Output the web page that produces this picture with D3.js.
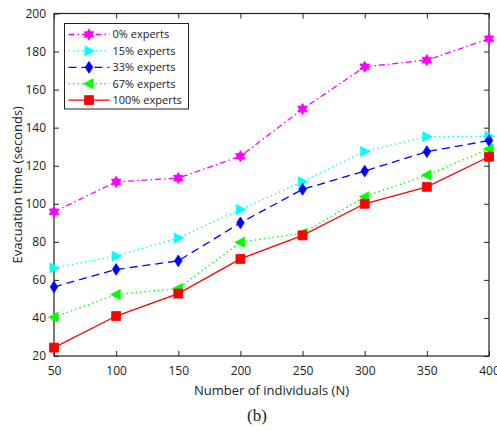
<!DOCTYPE html>
<html>
<head>
<meta charset="utf-8">
<script src="https://cdn.jsdelivr.net/npm/d3@7"></script>
<style>
  body { margin: 0; background: #fff; }
  svg text { font-family: "Open Sans", "Noto Sans", sans-serif; fill: #222; }
</style>
</head>
<body>
<svg id="chart" width="497" height="431"></svg>
<script>
// data
var individuals = [50, 100, 150, 200, 250, 300, 350, 400];
var experts0   = [95.8, 111.5, 113.5, 125, 149.8, 172, 175.5, 186.7];
var experts15  = [66.3, 72.5, 82, 97, 111.6, 127.5, 135.3, 135.5];
var experts33  = [56.3, 65.5, 70, 90, 107.6, 117.2, 127.4, 133.2];
var experts67  = [40.4, 52.3, 55.5, 79.8, 84.5, 103.7, 115.1, 128.8];
var experts100 = [24.4, 41, 52.8, 71, 83.4, 100, 108.9, 124.7];
var seriesNames = ["0% experts", "15% experts", "33% experts", "67% experts", "100% experts"];
var yTicks = [20, 40, 60, 80, 100, 120, 140, 160, 180, 200];

var series = [
  { name: seriesNames[0], values: experts0,   color: "#ff00ff", dash: "6,3,1.5,3", marker: "star" },
  { name: seriesNames[1], values: experts15,  color: "#00ffff", dash: "1.5,3",     marker: "triRight" },
  { name: seriesNames[2], values: experts33,  color: "#0000ff", dash: "8,5",       marker: "diamond" },
  { name: seriesNames[3], values: experts67,  color: "#00ff00", dash: "1.5,3",     marker: "triLeft" },
  { name: seriesNames[4], values: experts100, color: "#ff0000", dash: null,        marker: "square" }
];

var svg = d3.select("#chart");
var margin = { left: 54, right: 8, top: 13.5, bottom: 75 };
var W = 497, H = 431;

var x = d3.scaleLinear().domain([50, 400]).range([margin.left, W - margin.right]);
var y = d3.scaleLinear().domain([20, 200]).range([H - margin.bottom, margin.top]);

//
// marker shapes, centred at 0,0
function markerPath(kind, s) {
  if (kind === "square") return "M" + (-s/2) + "," + (-s/2) + "h" + s + "v" + s + "h" + (-s) + "Z";
  if (kind === "diamond") return "M0," + (-s*0.65) + "L" + (s*0.42) + ",0L0," + (s*0.65) + "L" + (-s*0.42) + ",0Z";
  if (kind === "triRight") return "M" + (-s*0.45) + "," + (-s*0.55) + "L" + (s*0.6) + ",0L" + (-s*0.45) + "," + (s*0.55) + "Z";
  if (kind === "triLeft") return "M" + (s*0.45) + "," + (-s*0.55) + "L" + (-s*0.6) + ",0L" + (s*0.45) + "," + (s*0.55) + "Z";
  // six pointed star
  var pts = [];
  for (var i = 0; i < 12; i++) {
    var r = i % 2 === 0 ? s * 0.62 : s * 0.36;
    var a = Math.PI / 2 + i * Math.PI / 6;
    pts.push([r * Math.cos(a), -r * Math.sin(a)]);
  }
  return "M" + pts.map(function(p) { return p[0].toFixed(2) + "," + p[1].toFixed(2); }).join("L") + "Z";
}

var x0 = x.range()[0], x1 = x.range()[1], y0 = y.range()[0], y1 = y.range()[1];

// axes: ticks inward, box on
var gx = svg.append("g").attr("transform", "translate(0," + y0 + ")")
  .call(d3.axisBottom(x).tickValues(individuals).tickSizeInner(-5).tickSizeOuter(0).tickPadding(10));
var gxTop = svg.append("g").attr("transform", "translate(0," + y1 + ")")
  .call(d3.axisTop(x).tickValues(individuals).tickSizeInner(-5).tickSizeOuter(0).tickFormat(""));
var gy = svg.append("g").attr("transform", "translate(" + x0 + ",0)")
  .call(d3.axisLeft(y).tickValues(yTicks).tickSizeInner(-5).tickSizeOuter(0).tickPadding(8));
var gyRight = svg.append("g").attr("transform", "translate(" + x1 + ",0)")
  .call(d3.axisRight(y).tickValues(yTicks).tickSizeInner(-5).tickSizeOuter(0).tickFormat(""));

[gx, gxTop, gy, gyRight].forEach(function(g) {
  g.selectAll(".domain").remove();
  g.selectAll(".tick line").attr("stroke", "#222").attr("stroke-width", 1);
  g.selectAll("text").attr("font-size", 12).attr("font-family", "'Open Sans', sans-serif").attr("fill", "#222");
});

svg.append("rect")
  .attr("x", x0).attr("y", y1).attr("width", x1 - x0).attr("height", y0 - y1)
  .attr("fill", "none").attr("stroke", "#222").attr("stroke-width", 1.2);

// lines + markers
var line = d3.line().x(function(d, i) { return x(individuals[i]); }).y(function(d) { return y(d); });

series.forEach(function(s) {
  svg.append("path")
    .attr("d", line(s.values))
    .attr("fill", "none")
    .attr("stroke", s.color)
    .attr("stroke-width", 1.3)
    .attr("stroke-dasharray", s.dash);
  svg.append("g").selectAll("path").data(s.values).enter().append("path")
    .attr("transform", function(d, i) { return "translate(" + x(individuals[i]) + "," + y(d) + ")"; })
    .attr("d", markerPath(s.marker, 9))
    .attr("fill", s.color)
    .attr("stroke", s.color)
    .attr("stroke-width", 0.8);
});

// legend
var lg = svg.append("g").attr("transform", "translate(64.5,23.5)");
lg.append("rect").attr("width", 124).attr("height", 85.5)
  .attr("fill", "#fff").attr("stroke", "#222").attr("stroke-width", 1);
series.forEach(function(s, i) {
  var ly = 11 + i * 16.4;
  lg.append("line").attr("x1", 4).attr("x2", 45).attr("y1", ly).attr("y2", ly)
    .attr("stroke", s.color).attr("stroke-width", 1.3).attr("stroke-dasharray", s.dash);
  lg.append("path").attr("transform", "translate(24.5," + ly + ")")
    .attr("d", markerPath(s.marker, 9)).attr("fill", s.color).attr("stroke", s.color).attr("stroke-width", 0.8);
  lg.append("text").attr("x", 48).attr("y", ly).attr("dy", "0.35em")
    .attr("font-size", 11).text(s.name);
});

// axis titles
svg.append("text")
  .attr("x", (x0 + x1) / 2).attr("y", 395)
  .attr("text-anchor", "middle").attr("font-size", 13)
  .text("Number of individuals (N)");
svg.append("text")
  .attr("transform", "translate(22," + ((y0 + y1) / 2) + ") rotate(-90)")
  .attr("text-anchor", "middle").attr("font-size", 13)
  .text("Evacuation time (seconds)");
svg.append("text")
  .attr("x", 257).attr("y", 421)
  .attr("text-anchor", "middle").attr("font-size", 17)
  .style("font-family", "'Liberation Serif', 'Times New Roman', serif")
  .text("(b)");
</script>
</body>
</html>
